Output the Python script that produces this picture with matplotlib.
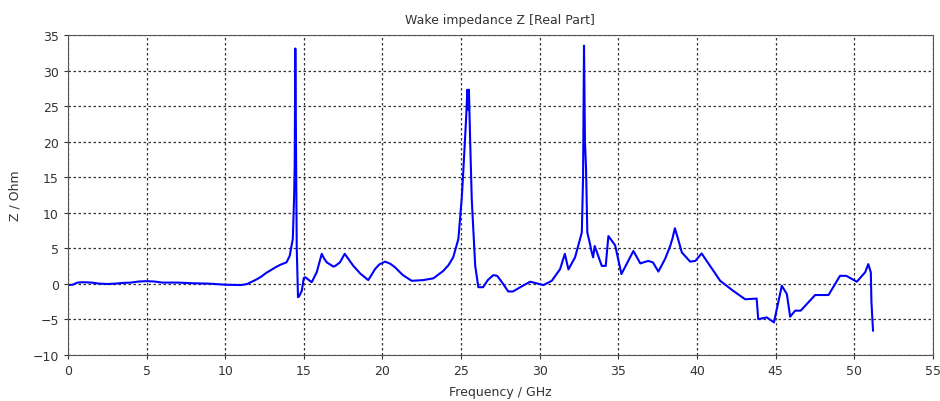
import matplotlib.pyplot as plt

# Wake impedance, real part
freq_ghz = [
    0.0, 0.3, 0.6, 1.0, 1.5, 2.0, 2.5, 3.0, 3.5, 4.0, 4.5, 5.0, 5.5, 6.0,
    7.0, 8.0, 9.0, 10.0, 11.0, 11.4, 12.0, 12.3, 12.6, 13.2, 13.5, 13.9, 14.1, 14.3,
    14.38, 14.42, 14.44, 14.46, 14.5, 14.55, 14.63, 14.7, 14.87, 15.0, 15.1,
    15.5, 15.82, 16.14, 16.3, 16.46, 16.88, 17.0, 17.3, 17.6, 18.15, 18.6, 19.1, 19.53,
    19.8, 20.17, 20.5, 20.8, 21.3, 21.86, 22.6, 23.24, 23.87, 24.2, 24.5, 24.83, 25.04, 25.15,
    25.32, 25.4, 25.45, 25.5, 25.58, 25.68, 25.9, 26.1, 26.4, 26.7, 27.05, 27.3,
    27.6, 28.0, 28.3, 29.0, 29.4, 30.24, 30.77, 31.3, 31.6, 31.83, 32.25, 32.68, 32.76,
    32.82, 32.88, 32.95, 33.03, 33.2, 33.3, 33.4, 33.5, 33.95, 34.2, 34.37,
    34.8, 35.2, 35.96, 36.4, 36.9, 37.2, 37.55, 37.98, 38.3, 38.45, 38.6, 38.8, 39.04,
    39.57, 39.9, 40.3, 40.84, 41.48, 42.3, 43.07, 43.8, 43.9, 44.44, 44.9,
    45.4, 45.72, 45.93, 46.25, 46.6, 47.52, 48.37, 49.1, 49.5, 50.17, 50.7,
    50.9, 51.06, 51.1, 51.2,
]
z_ohm = [
    -0.2, -0.15, 0.15, 0.2, 0.15, 0.0, -0.05, 0.0, 0.1, 0.15, 0.3, 0.35, 0.3, 0.15,
    0.15, 0.05, 0.0, -0.15, -0.2, -0.05, 0.6, 1.0, 1.5, 2.3, 2.65, 3.0, 3.9, 6.3,
    12.0, 16.7, 25.0, 33.1, 20.0, 5.0, -1.9, -1.8, -1.0, 0.8, 0.9,
    0.2, 1.6, 4.2, 3.5, 3.0, 2.4, 2.5, 3.0, 4.2, 2.5, 1.4, 0.5, 2.05,
    2.7, 3.1, 2.8, 2.3, 1.2, 0.4, 0.5, 0.75, 1.8, 2.6, 3.7, 6.3, 11.9, 16.1,
    23.2, 27.3, 24.5, 27.3, 20.0, 11.9, 2.5, -0.5, -0.5, 0.5, 1.2, 1.1,
    0.2, -1.1, -1.1, -0.2, 0.27, -0.2, 0.4, 2.05, 4.2, 2.0, 3.7, 7.2, 15.0,
    33.5, 20.0, 16.1, 7.2, 5.6, 4.5, 3.7, 5.3, 2.5, 2.5, 6.7,
    5.4, 1.35, 4.6, 2.85, 3.2, 3.0, 1.7, 3.5, 5.3, 6.4, 7.8, 6.3, 4.4,
    3.1, 3.2, 4.25, 2.5, 0.4, -1.0, -2.2, -2.1, -5.0, -4.75, -5.45,
    -0.3, -1.46, -4.65, -3.8, -3.8, -1.6, -1.6, 1.1, 1.1, 0.27, 1.6,
    2.75, 1.6, -2.6, -6.6,
]

fig = plt.figure(figsize=(9.4, 4.02), dpi=100)
ax = fig.add_axes([0.0723, 0.1152, 0.92, 0.7952])

ax.plot(freq_ghz, z_ohm, color='#0000ff', linewidth=1.5)

ax.set_xlim(0, 55)
ax.set_ylim(-10, 35)
ax.set_xticks(range(0, 56, 5))
ax.set_yticks(range(-10, 36, 5))
ax.grid(True, color='#333333', linestyle=(0, (2, 2)), linewidth=0.9)
ax.tick_params(direction='out', length=3, labelsize=9, colors='#333333')
for sp in ax.spines.values():
    sp.set_color('#555555')

ax.set_title('Wake impedance Z [Real Part]', fontsize=9, color='#333333', pad=9)
ax.set_xlabel('Frequency / GHz', fontsize=9, color='#333333', labelpad=6)
ax.set_ylabel('Z / Ohm', fontsize=9, color='#333333', labelpad=8)

fig.savefig('out.png', dpi=100)
